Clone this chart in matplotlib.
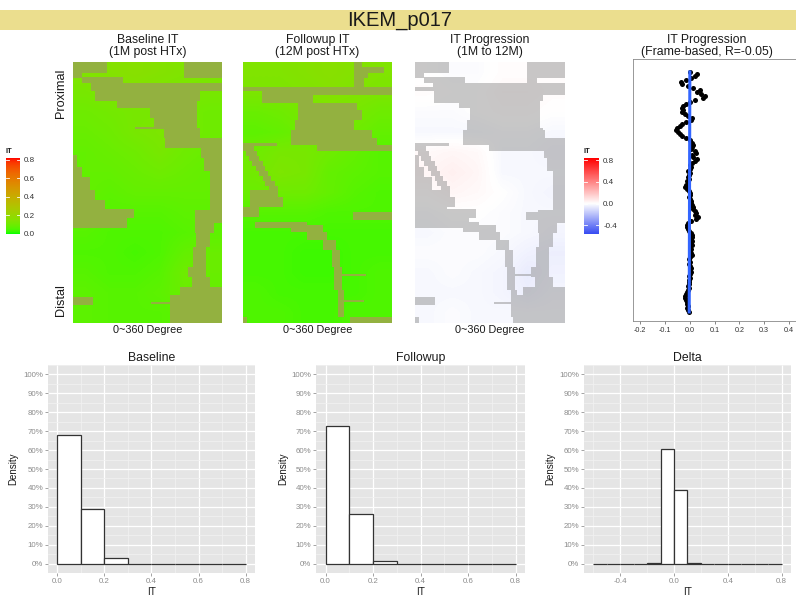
import numpy as np
import matplotlib
matplotlib.use("Agg")
import matplotlib.pyplot as plt
from matplotlib.colors import ListedColormap, Normalize, LinearSegmentedColormap, TwoSlopeNorm
from matplotlib.patches import Rectangle
from matplotlib.ticker import FuncFormatter, MultipleLocator

plt.rcParams['font.family'] = ['Liberation Sans', 'DejaVu Sans']
plt.rcParams['axes.unicode_minus'] = False

W, H = 796, 603

# ---------------------------------------------------------------- data
patient_id = "IKEM_p017"

# IT maps (rows: proximal -> distal, cols: 0 -> 360 degree)
baseline_it = np.array([
    [0.14, 0.15, 0.16, 0.15, 0.14, 0.13],
    [0.12, 0.13, 0.14, 0.13, 0.12, 0.12],
    [0.10, 0.11, 0.12, 0.12, 0.11, 0.10],
    [0.09, 0.10, 0.12, 0.13, 0.11, 0.10],
    [0.08, 0.09, 0.10, 0.12, 0.10, 0.09],
    [0.08, 0.08, 0.09, 0.10, 0.09, 0.08],
    [0.08, 0.07, 0.08, 0.08, 0.08, 0.08],
    [0.07, 0.06, 0.06, 0.06, 0.07, 0.07],
    [0.06, 0.05, 0.05, 0.05, 0.06, 0.07],
    [0.05, 0.05, 0.04, 0.05, 0.08, 0.09],
    [0.06, 0.05, 0.05, 0.06, 0.10, 0.09],
    [0.07, 0.06, 0.06, 0.07, 0.09, 0.08],
    [0.07, 0.06, 0.06, 0.06, 0.07, 0.07],
])
followup_it = np.array([
    [0.14, 0.14, 0.15, 0.16, 0.15, 0.14],
    [0.13, 0.13, 0.14, 0.15, 0.14, 0.13],
    [0.09, 0.10, 0.12, 0.13, 0.12, 0.10],
    [0.07, 0.08, 0.10, 0.12, 0.10, 0.08],
    [0.10, 0.12, 0.12, 0.10, 0.08, 0.06],
    [0.11, 0.13, 0.12, 0.08, 0.07, 0.06],
    [0.09, 0.10, 0.10, 0.08, 0.06, 0.05],
    [0.06, 0.06, 0.06, 0.05, 0.05, 0.05],
    [0.04, 0.04, 0.04, 0.04, 0.04, 0.04],
    [0.04, 0.04, 0.03, 0.03, 0.04, 0.04],
    [0.04, 0.04, 0.03, 0.03, 0.04, 0.05],
    [0.05, 0.04, 0.04, 0.04, 0.04, 0.05],
    [0.05, 0.05, 0.04, 0.04, 0.05, 0.05],
])
# typical IT inside the excluded regions
masked_it = 0.22

# excluded (side-branch / artefact) regions, (row0, row1, col0, col1) on a 52 x 30 grid
GRID_ROWS, GRID_COLS = 52, 30
baseline_mask = [
    (0.0, 2.2, 0.0, 6.8), (0.0, 3.2, 22.3, 30.0), (2.2, 3.2, 0.0, 1.8),
    (3.0, 4.2, 1.8, 10.0), (4.2, 5.8, 3.5, 30.0), (5.8, 7.8, 4.5, 25.6),
    (7.8, 9.2, 8.8, 25.0), (9.2, 11.2, 15.5, 25.0), (11.2, 13.2, 16.5, 25.0),
    (12.9, 13.3, 12.5, 19.0), (13.2, 15.2, 18.3, 25.6), (15.2, 17.2, 18.6, 30.0),
    (17.2, 19.2, 25.8, 30.0), (19.2, 21.8, 26.5, 30.0), (21.8, 25.5, 27.5, 30.0),
    (25.5, 29.5, 27.6, 30.0), (29.5, 32.1, 24.6, 30.0), (32.1, 34.1, 24.6, 28.3),
    (34.1, 36.8, 24.9, 27.6), (36.8, 40.8, 24.2, 26.9), (40.8, 42.8, 23.2, 26.9),
    (42.8, 44.8, 23.9, 27.6), (44.8, 46.5, 21.5, 30.0), (46.5, 52.0, 19.5, 30.0),
    (47.8, 48.3, 15.8, 19.5),
    (18.5, 21.0, 0.0, 0.8), (21.0, 23.0, 0.0, 1.8), (23.0, 25.5, 0.0, 3.4),
    (25.5, 27.5, 0.0, 4.5), (27.5, 29.2, 0.0, 6.3), (29.2, 31.1, 0.0, 12.2),
    (31.1, 33.1, 0.0, 10.8), (46.8, 48.4, 0.0, 4.1),
]
followup_mask = [
    (0.0, 0.9, 22.5, 23.9), (0.9, 2.2, 22.5, 28.3), (2.2, 3.2, 22.5, 25.2),
    (3.2, 5.0, 22.5, 24.5), (5.0, 5.8, 0.0, 6.2), (5.0, 6.5, 3.8, 30.0),
    (6.5, 8.2, 3.8, 14.0), (8.2, 9.6, 11.0, 23.0), (9.6, 11.5, 11.0, 24.0),
    (11.5, 13.5, 10.5, 22.5), (13.5, 15.2, 9.5, 26.0), (15.2, 16.5, 9.5, 27.0),
    (16.5, 17.8, 14.8, 30.0), (16.1, 16.7, 0.0, 6.8),
    (16.7, 17.7, 0.0, 2.2), (17.7, 18.7, 0.6, 2.8), (18.7, 19.7, 1.3, 3.3),
    (19.7, 20.7, 1.9, 3.9), (20.7, 21.7, 2.6, 4.5), (21.7, 22.7, 3.2, 5.1),
    (22.7, 23.7, 3.9, 5.7), (23.7, 24.7, 4.5, 6.4), (24.7, 25.7, 5.2, 7.0),
    (25.5, 26.8, 1.4, 7.0), (26.8, 28.8, 1.4, 8.1), (28.8, 30.8, 0.0, 3.2),
    (29.8, 31.5, 22.2, 30.0), (31.8, 33.0, 2.4, 12.8), (32.5, 33.8, 9.5, 16.2),
    (33.8, 35.5, 12.8, 17.0), (35.5, 37.5, 16.2, 18.9), (37.5, 40.8, 18.0, 19.5),
    (40.8, 45.5, 18.5, 19.9), (42.2, 42.6, 19.5, 24.9), (45.5, 50.8, 19.2, 20.5),
    (47.5, 47.9, 19.5, 24.5), (50.8, 52.0, 21.5, 30.0), (50.8, 52.0, 0.0, 0.8),
]

# frame-based IT change (one value per frame, proximal -> distal)
frame_delta = [
    0.000, 0.030, 0.020, 0.005, -0.015, -0.035, -0.030, -0.005, 0.015, 0.040,
    0.030, 0.045, 0.060, 0.055, 0.020, 0.000, -0.015, -0.025, -0.030, -0.028,
    -0.030, -0.020, -0.005, 0.008, 0.005, -0.015, -0.030, -0.040, -0.050, -0.055,
    -0.048, -0.040, -0.030, -0.015, 0.000, 0.008, 0.015, 0.010, 0.005, 0.020,
    0.025, 0.010, 0.015, 0.030, 0.022, 0.010, 0.002, 0.005, 0.000, -0.005,
    0.003, -0.002, -0.008, -0.004, -0.010, -0.008, -0.015, -0.020, -0.010, -0.003,
    0.000, 0.003, -0.002, 0.002, 0.005, 0.004, 0.010, 0.015, 0.012, 0.020,
    0.025, 0.022, 0.035, 0.025, 0.005, -0.005, -0.010, -0.012, -0.008, -0.002,
    0.004, 0.008, 0.010, 0.006, 0.009, 0.004, 0.008, 0.003, 0.006, 0.001,
    0.005, 0.008, 0.003, -0.002, 0.002, -0.004, 0.000, 0.004, 0.002, 0.006,
    0.001, -0.003, 0.002, -0.001, -0.004, -0.002, -0.006, -0.003, -0.008, -0.012,
    -0.015, -0.018, -0.020, -0.016, -0.010, -0.012, -0.005, -0.010, -0.006, -0.003,
]
frame_r = -0.05

# histograms (fraction of pixels per 0.1-wide bin)
it_edges = [0.0, 0.1, 0.2, 0.3, 0.4, 0.5, 0.6, 0.7, 0.8]
baseline_density = [0.68, 0.29, 0.03, 0.0, 0.0, 0.0, 0.0, 0.0]
followup_density = [0.73, 0.26, 0.015, 0.0, 0.0, 0.0, 0.0, 0.0]
delta_edges = [-0.6, -0.5, -0.4, -0.3, -0.2, -0.1, 0.0, 0.1, 0.2, 0.3, 0.4, 0.5, 0.6, 0.7, 0.8]
delta_density = [0.0, 0.0, 0.0, 0.0, 0.004, 0.605, 0.39, 0.003, 0.0, 0.0, 0.0, 0.0, 0.0, 0.0]

IT_LIMITS = (0.0, 0.82)
DELTA_LIMITS = (-0.56, 0.84)

# ---------------------------------------------------------------- colour helpers (Lab ramp)
_M = np.array([[0.4124, 0.3576, 0.1805], [0.2126, 0.7152, 0.0722], [0.0193, 0.1192, 0.9505]])
_WHITE = np.array([0.95047, 1.0, 1.08883])


def _to_lab(rgb):
    c = np.asarray(rgb, float)
    lin = np.where(c <= 0.04045, c / 12.92, ((c + 0.055) / 1.055) ** 2.4)
    xyz = _M @ lin / _WHITE
    d = 6 / 29
    f = np.where(xyz > d ** 3, np.cbrt(xyz), xyz / (3 * d * d) + 4 / 29)
    return np.array([116 * f[1] - 16, 500 * (f[0] - f[1]), 200 * (f[1] - f[2])])


def _from_lab(lab):
    L, a, b = lab
    fy = (L + 16) / 116
    f = np.array([fy + a / 500, fy, fy - b / 200])
    d = 6 / 29
    xyz = np.where(f > d, f ** 3, 3 * d * d * (f - 4 / 29)) * _WHITE
    lin = np.clip(np.linalg.solve(_M, xyz), 0, 1)
    c = np.where(lin <= 0.0031308, 12.92 * lin, 1.055 * lin ** (1 / 2.4) - 0.055)
    return np.clip(c, 0, 1)


def lab_ramp(colors, n=256):
    labs = [_to_lab(c) for c in colors]
    out = []
    for t in np.linspace(0, 1, n):
        pos = t * (len(labs) - 1)
        i = min(int(pos), len(labs) - 2)
        u = pos - i
        out.append(_from_lab(labs[i] * (1 - u) + labs[i + 1] * u))
    return ListedColormap(out)


it_cmap = lab_ramp([(0, 1, 0), (1, 0, 0)])
delta_cmap = LinearSegmentedColormap.from_list(
    "delta", [(0.0, (0.22, 0.30, 0.95)), (0.5, (1, 1, 1)), (1.0, (1.0, 0.0, 0.0))])
it_norm = Normalize(*IT_LIMITS)
delta_norm = TwoSlopeNorm(vcenter=0.0, vmin=DELTA_LIMITS[0], vmax=DELTA_LIMITS[1])

MASK_GRAY = np.array([0.54, 0.54, 0.54])
MASK_ALPHA = 0.47


def build_mask(rects, h=261, w=150):
    m = np.zeros((h, w), bool)
    for r0, r1, c0, c1 in rects:
        m[int(round(r0 / GRID_ROWS * h)):int(round(r1 / GRID_ROWS * h)),
          int(round(c0 / GRID_COLS * w)):int(round(c1 / GRID_COLS * w))] = True
    return m


def overlay(mask, under=None):
    img = np.zeros(mask.shape + (4,))
    if under is None:
        img[..., :3] = MASK_GRAY
        img[..., 3] = np.where(mask, MASK_ALPHA, 0.0)
    else:
        img[..., :3] = np.asarray(under) * (1 - MASK_ALPHA) + MASK_GRAY * MASK_ALPHA
        img[..., 3] = np.where(mask, 1.0, 0.0)
    return img


def rect(x0, y0, x1, y1):
    return [x0 / W, 1 - y1 / H, (x1 - x0) / W, (y1 - y0) / H]


def ftext(x, y, s, **kw):
    fig.text(x / W, 1 - y / H, s, **kw)


# ---------------------------------------------------------------- figure
fig = plt.figure(figsize=(W / 100, H / 100), dpi=100)
fig.patch.set_facecolor('white')

fig.patches.append(Rectangle((0, 1 - 30 / H), 1, 20 / H, transform=fig.transFigure,
                             facecolor='#EBDE8E', edgecolor='none', zorder=0))
ftext(400, 20, patient_id, ha='center', va='center', fontsize=14.5, color='#1a1a1a')

mask_b = build_mask(baseline_mask)
mask_f = build_mask(followup_mask)
mask_d = mask_b | mask_f
delta_it = followup_it - baseline_it
masked_rgb = it_cmap(it_norm(masked_it))[:3]

panels = [
    ((73, 62, 222, 323), baseline_it, it_cmap, it_norm, mask_b, masked_rgb, "Baseline IT\n(1M post HTx)"),
    ((243, 62, 392, 323), followup_it, it_cmap, it_norm, mask_f, masked_rgb, "Followup IT\n(12M post HTx)"),
    ((415, 62, 564, 323), delta_it, delta_cmap, delta_norm, mask_d, None, "IT Progression\n(1M to 12M)"),
]
for (x0, y0, x1, y1), vals, cmap, norm, mask, under, title in panels:
    ax = fig.add_axes(rect(x0, y0, x1, y1))
    ax.imshow(vals, cmap=cmap, norm=norm, extent=(0, GRID_COLS, GRID_ROWS, 0),
              interpolation='bilinear', aspect='auto')
    ax.imshow(overlay(mask, under), extent=(0, GRID_COLS, GRID_ROWS, 0),
              interpolation='nearest', aspect='auto')
    ax.set_xlim(0, GRID_COLS)
    ax.set_ylim(GRID_ROWS, 0)
    ax.axis('off')
    ftext((x0 + x1) / 2, 46, title, ha='center', va='center', fontsize=8.8,
          linespacing=1.0, color='#1a1a1a')
    ftext((x0 + x1) / 2, 330, "0~360 Degree", ha='center', va='center', fontsize=7.8,
          color='#1a1a1a')

ftext(61, 93, "Proximal", rotation=90, ha='center', va='center', fontsize=9.2, color='#1a1a1a')
ftext(61, 300, "Distal", rotation=90, ha='center', va='center', fontsize=9.2, color='#1a1a1a')


def colorbar(x0, x1, cmap, norm, lims, ticks):
    cax = fig.add_axes(rect(x0, 158, x1, 234))
    grad = np.linspace(lims[1], lims[0], 200)[:, None]
    cax.imshow(grad, cmap=cmap, norm=norm, extent=(0, 1, lims[0], lims[1]), aspect='auto')
    cax.set_xlim(0, 1)
    cax.set_ylim(*lims)
    for s in cax.spines.values():
        s.set_visible(False)
    cax.set_xticks([])
    cax.yaxis.tick_right()
    cax.set_yticks(ticks)
    cax.set_yticklabels([f"{t:.1f}" for t in ticks])
    cax.tick_params(axis='y', length=0, pad=3, labelsize=5.8, labelcolor='#333333')
    for t in ticks:
        cax.plot([0, 0.2], [t, t], color='white', lw=0.6)
        cax.plot([0.8, 1], [t, t], color='white', lw=0.6)
    ftext(x0, 151, "IT", ha='left', va='center', fontsize=5.4, fontweight='bold', color='#1a1a1a')


colorbar(6, 20, it_cmap, it_norm, IT_LIMITS, [0.0, 0.2, 0.4, 0.6, 0.8])
colorbar(584, 599, delta_cmap, delta_norm, DELTA_LIMITS, [-0.4, 0.0, 0.4, 0.8])

# frame-based progression
sax = fig.add_axes(rect(633, 59, 796, 321))
frames = np.arange(len(frame_delta))
sax.scatter(frame_delta, frames, s=13, color='black', linewidths=0, zorder=2)
slope, icpt = np.polyfit(frames, frame_delta, 1)
sax.plot(slope * frames + icpt, frames, color='#3366FF', lw=2.2, zorder=3)
sax.set_xlim(-0.228, 0.428)
sax.set_ylim(len(frame_delta) + 3.5, -6.4)
sax.set_xticks([-0.2, -0.1, 0.0, 0.1, 0.2, 0.3, 0.4])
sax.xaxis.set_major_formatter(FuncFormatter(lambda v, p: f"{v:.1f}"))
sax.set_yticks([])
sax.tick_params(axis='x', length=2, width=0.5, color='#555555', pad=2,
                labelsize=5.2, labelcolor='#333333')
for s in sax.spines.values():
    s.set_color('#888888')
    s.set_linewidth(0.6)
ftext(707, 46, f"IT Progression\n(Frame-based, R={frame_r:.2f})", ha='center', va='center',
      fontsize=8.8, linespacing=1.0, color='#1a1a1a')

# histograms
hists = [
    ((48, 365, 255, 573), it_edges, baseline_density, "Baseline", [0.0, 0.2, 0.4, 0.6, 0.8], 0.1, 13),
    ((316, 365, 525, 573), it_edges, followup_density, "Followup", [0.0, 0.2, 0.4, 0.6, 0.8], 0.1, 283),
    ((584, 365, 791, 573), delta_edges, delta_density, "Delta", [-0.4, 0.0, 0.4, 0.8], 0.2, 550),
]
for (x0, y0, x1, y1), edges, dens, title, xt, minor, ylab_x in hists:
    ax = fig.add_axes(rect(x0, y0, x1, y1))
    ax.set_facecolor('#E5E5E5')
    lo, hi = edges[0], edges[-1]
    pad = (hi - lo) * 0.05
    ax.set_xlim(lo - pad, hi + pad)
    ax.set_ylim(-0.05, 1.05)
    ax.set_xticks(xt)
    ax.xaxis.set_minor_locator(MultipleLocator(minor))
    ax.set_yticks(np.arange(0, 1.01, 0.1))
    ax.yaxis.set_minor_locator(MultipleLocator(0.05))
    ax.grid(which='minor', color='#F2F2F2', lw=0.5)
    ax.grid(which='major', color='white', lw=0.9)
    ax.set_axisbelow(True)
    ax.bar(edges[:-1], dens, width=np.diff(edges), align='edge', color='white',
           edgecolor='#333333', lw=0.9, zorder=3)
    ax.xaxis.set_major_formatter(FuncFormatter(lambda v, p: f"{v:.1f}"))
    ax.yaxis.set_major_formatter(FuncFormatter(lambda v, p: f"{v * 100:.0f}%"))
    ax.tick_params(which='major', length=2, width=0.5, color='#7F7F7F', pad=1.5,
                   labelsize=5.7, labelcolor='#8C8C8C')
    ax.tick_params(which='minor', length=0)
    for s in ax.spines.values():
        s.set_visible(False)
    ftext((x0 + x1) / 2, 358, title, ha='center', va='center', fontsize=8.8, color='#1a1a1a')
    ftext((x0 + x1) / 2, 592, "IT", ha='center', va='center', fontsize=7.2, color='#1a1a1a')
    ftext(ylab_x, (y0 + y1) / 2, "Density", rotation=90, ha='center', va='center',
          fontsize=7.0, color='#1a1a1a')

fig.savefig("out.png", dpi=100, facecolor='white')
